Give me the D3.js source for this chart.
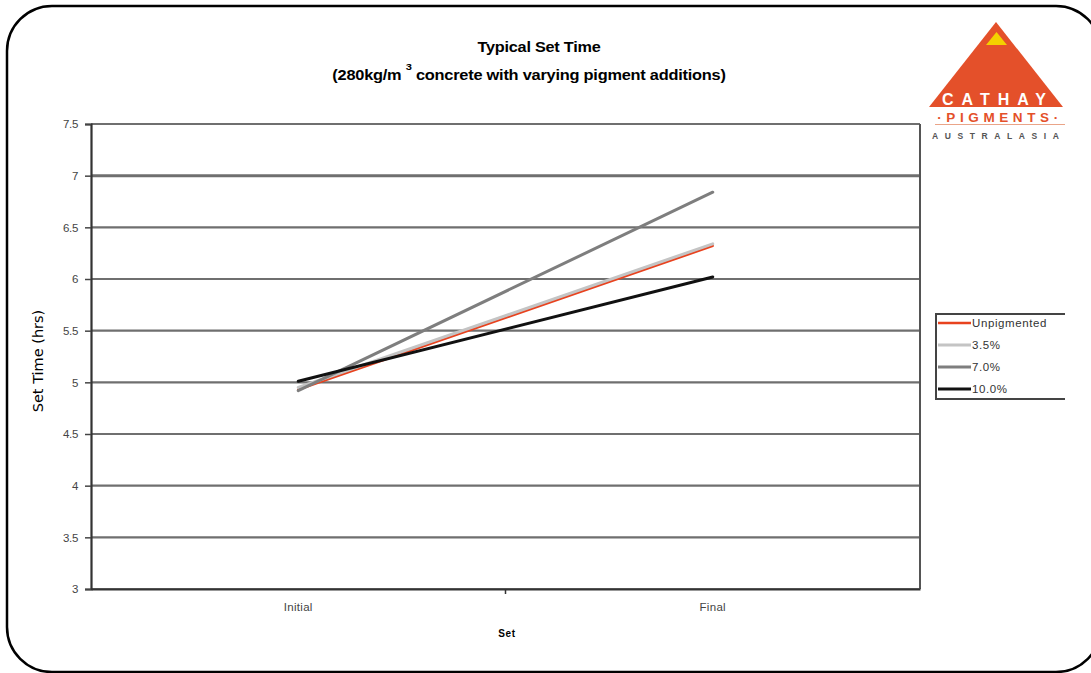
<!DOCTYPE html>
<html>
<head>
<meta charset="utf-8">
<script src="https://cdn.jsdelivr.net/npm/d3@7/dist/d3.min.js"></script>
<style>
  html, body { margin: 0; padding: 0; background: #fff; }
  svg { display: block; }
</style>
</head>
<body>
<svg id="chart" width="1091" height="673" font-family="Liberation Sans, Arial, sans-serif"></svg>
<script>
// Set time categories and series (hours)
const categories = ["Initial", "Final"];
const seriesNames = ["Unpigmented", "3.5%", "7.0%", "10.0%"];
const unpigmented = [4.93, 6.32];
const pigment35 = [4.95, 6.34];
const pigment70 = [4.92, 6.84];
const pigment100 = [5.01, 6.02];
const yTicks = [3, 3.5, 4, 4.5, 5, 5.5, 6, 6.5, 7, 7.5];

const series = [
  { name: seriesNames[0], values: unpigmented, color: "#e8421e", width: 2.4 },
  { name: seriesNames[1], values: pigment35, color: "#c4c4c4", width: 3 },
  { name: seriesNames[2], values: pigment70, color: "#7e7e7e", width: 3 },
  { name: seriesNames[3], values: pigment100, color: "#111111", width: 3 }
];

const svg = d3.select("#chart");
const plot = { left: 91, right: 920, top: 124, bottom: 589 };

// Rounded frame
svg.append("rect")
  .attr("x", 7).attr("y", 6)
  .attr("width", 1094).attr("height", 666)
  .attr("rx", 45).attr("ry", 45)
  .attr("fill", "#fff")
  .attr("stroke", "#000").attr("stroke-width", 2.5);

const x = d3.scaleBand().domain(categories).range([plot.left, plot.right]).padding(0);
const y = d3.scaleLinear().domain([3, 7.5]).range([plot.bottom, plot.top]);

// Gridlines
svg.append("g").selectAll("line").data(yTicks).join("line")
  .attr("x1", plot.left).attr("x2", plot.right)
  .attr("y1", d => y(d)).attr("y2", d => y(d))
  .attr("stroke", "#6f6f6f")
  .attr("stroke-width", d => d === 7 ? 3 : 2.2);

// Right border of the plot area
svg.append("line")
  .attr("x1", plot.right).attr("x2", plot.right)
  .attr("y1", plot.top).attr("y2", plot.bottom)
  .attr("stroke", "#555").attr("stroke-width", 2);

// Y axis
const yAxis = d3.axisLeft(y).tickValues(yTicks).tickSize(6).tickPadding(7)
  .tickFormat(d3.format("~g"));
const gy = svg.append("g").attr("transform", `translate(${plot.left},0)`).call(yAxis)
  .attr("font-family", null);
gy.select(".domain").attr("stroke", "#333").attr("stroke-width", 2.2);
gy.selectAll(".tick line").attr("stroke", "#444").attr("stroke-width", 1.5);
gy.selectAll(".tick text")
  .attr("fill", "#444").attr("font-size", 11.5)
  .style("letter-spacing", "-0.3px");

// X axis
const xAxis = d3.axisBottom(x).tickSize(0).tickPadding(14);
const gx = svg.append("g").attr("transform", `translate(0,${plot.bottom})`).call(xAxis)
  .attr("font-family", null);
gx.select(".domain").attr("stroke", "#333").attr("stroke-width", 2.2);
gx.selectAll(".tick text")
  .attr("fill", "#444").attr("font-size", 11.5)
  .style("letter-spacing", "0.3px");
// Category boundary tick
svg.append("line")
  .attr("x1", x("Final")).attr("x2", x("Final"))
  .attr("y1", plot.bottom).attr("y2", plot.bottom + 5)
  .attr("stroke", "#333").attr("stroke-width", 1.5);

// Series lines
const line = d3.line()
  .x((d, i) => x(categories[i]) + x.bandwidth() / 2)
  .y(d => y(d));
svg.append("g").selectAll("path").data(series).join("path")
  .attr("d", d => line(d.values))
  .attr("fill", "none")
  .attr("stroke", d => d.color)
  .attr("stroke-width", d => d.width)
  .attr("stroke-linecap", "round");

// Titles (slightly widened bold face)
svg.append("text")
  .attr("transform", "translate(539,52) scale(1.16,1)")
  .attr("text-anchor", "middle")
  .attr("font-size", 14).attr("font-weight", "bold")
  .style("letter-spacing", "-0.2px")
  .text("Typical Set Time");
const sub = svg.append("text")
  .attr("transform", "translate(529,80) scale(1.17,1)")
  .attr("text-anchor", "middle")
  .attr("font-size", 14).attr("font-weight", "bold")
  .style("letter-spacing", "-0.2px");
sub.append("tspan").text("(280kg/m ");
sub.append("tspan").attr("dy", -10).attr("font-size", 9.5).text("3");
sub.append("tspan").attr("dy", 10).text(" concrete with varying pigment additions)");

// Axis titles
svg.append("text")
  .attr("transform", "translate(43,361) rotate(-90)")
  .attr("text-anchor", "middle")
  .attr("font-family", "DejaVu Sans, sans-serif")
  .attr("font-size", 14.5)
  .text("Set Time (hrs)");
svg.append("text")
  .attr("x", 507).attr("y", 637)
  .attr("text-anchor", "middle")
  .attr("font-size", 10).attr("font-weight", "bold")
  .style("letter-spacing", "0.6px")
  .text("Set");

// Legend
const lg = svg.append("g");
lg.append("path")
  .attr("d", "M1065,314 H936 V399 H1065")
  .attr("fill", "#fff")
  .attr("stroke", "#444").attr("stroke-width", 2);
const legendY = d3.scalePoint().domain(seriesNames).range([323, 389]);
const items = lg.selectAll("g.item").data(series).join("g")
  .attr("class", "item")
  .attr("transform", d => `translate(0,${legendY(d.name)})`);
items.append("line")
  .attr("x1", 938).attr("x2", 971)
  .attr("stroke", d => d.color).attr("stroke-width", d => d.width);
items.append("text")
  .attr("x", 972).attr("y", 4)
  .attr("font-size", 11.5).attr("fill", "#333")
  .style("letter-spacing", "0.6px")
  .text(d => d.name);

// Company logo
const logo = svg.append("g");
const orange = "#e4502a";
logo.append("path")
  .attr("d", "M996,22 L1063,107 L929,107 Z")
  .attr("fill", orange);
logo.append("path")
  .attr("d", "M996.5,32 L1007,45 L986,45 Z")
  .attr("fill", "#f4d000");
logo.append("text")
  .attr("x", 998).attr("y", 105)
  .attr("text-anchor", "middle")
  .attr("font-size", 16).attr("font-weight", "bold")
  .attr("fill", "#fff")
  .style("letter-spacing", "8px")
  .text("CATHAY");
logo.append("text")
  .attr("x", 1000).attr("y", 122)
  .attr("text-anchor", "middle")
  .attr("font-size", 13.5).attr("font-weight", "bold")
  .attr("fill", orange)
  .style("letter-spacing", "4.6px")
  .text("·PIGMENTS·");
logo.append("line")
  .attr("x1", 935).attr("x2", 1065)
  .attr("y1", 124.5).attr("y2", 124.5)
  .attr("stroke", "#eaa488").attr("stroke-width", 1);
logo.append("text")
  .attr("x", 932).attr("y", 139)
  .attr("font-size", 8.5).attr("font-weight", "bold")
  .attr("fill", "#555")
  .style("letter-spacing", "6.6px")
  .text("AUSTRALASIA");
</script>
</body>
</html>
